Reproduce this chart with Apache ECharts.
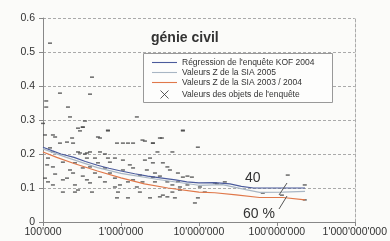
<!DOCTYPE html>
<html>
<head>
<meta charset="utf-8">
<script src="https://cdn.jsdelivr.net/npm/echarts@6/dist/echarts.min.js"></script>
<style>
  html, body { margin: 0; padding: 0; background: #fbfbf9; }
  #chart { width: 390px; height: 241px; }
</style>
</head>
<body>
<div id="chart"></div>
<script>
// échelle x: coût de l'ouvrage (log), y: valeur Z
const xTicks = [1e5, 1e6, 1e7, 1e8, 1e9];
const yTicks = [0, 0.1, 0.2, 0.3, 0.4, 0.5, 0.6];

const regressionKOF = [
  [1e5, 0.22], [1.3e5, 0.21], [1.7e5, 0.2], [2.5e5, 0.19], [3.5e5, 0.178],
  [5e5, 0.167], [7e5, 0.158], [1e6, 0.15], [1.5e6, 0.142], [2.2e6, 0.135],
  [3.2e6, 0.13], [5e6, 0.124], [7e6, 0.118], [1e7, 0.115], [1.6e7, 0.116],
  [2.5e7, 0.112], [3.5e7, 0.105], [5e7, 0.1], [1e8, 0.1], [1.6e8, 0.1], [2.3e8, 0.1]
];
const sia2005 = [
  [1e5, 0.215], [2e5, 0.19], [5e5, 0.16], [1e6, 0.143], [3e6, 0.125],
  [1e7, 0.108], [2e7, 0.11], [4e7, 0.095], [6e7, 0.087], [1.2e8, 0.088], [2.3e8, 0.09]
];
const sia2003 = [
  [1e5, 0.206], [1.5e5, 0.19], [2.5e5, 0.172], [5e5, 0.15], [1e6, 0.13],
  [2e6, 0.112], [4e6, 0.1], [1e7, 0.088], [1.6e7, 0.086], [3e7, 0.08],
  [6e7, 0.072], [1.2e8, 0.072], [2.3e8, 0.065]
];
const objets = [
  [1.23e5, 0.526], [4.25e5, 0.426], [1.65e5, 0.379], [4.01e5, 0.376], [1.1e5, 0.356],
  [1.1e5, 0.338], [2.09e5, 0.338], [2.22e5, 0.309], [3.24e5, 0.279], [2.98e5, 0.268],
  [3.45e5, 0.297], [1.0e5, 0.29], [6.81e5, 0.268], [5.07e5, 0.25], [1.6e6, 0.309],
  [6.23e6, 0.268], [3.35e6, 0.247], [2.57e6, 0.232], [9.7e6, 0.22],
  [1.06e5, 0.256], [1.34e5, 0.256], [1.43e5, 0.25], [2.03e5, 0.235], [2.43e5, 0.232],
  [2.36e5, 0.247], [2.81e5, 0.276], [3.24e5, 0.279], [5.38e5, 0.247], [6.81e5, 0.27],
  [8.89e5, 0.232], [1.06e6, 0.232], [1.23e6, 0.232], [1.43e6, 0.232], [2.03e6, 0.238],
  [3.16e6, 0.247], [6.23e6, 0.27], [4.57e6, 0.206], [5.38e5, 0.206], [3.66e5, 0.203],
  [2.81e5, 0.206], [1.23e5, 0.218], [1.34e5, 0.206], [1.34e5, 0.162], [1.13e5, 0.168],
  [1.06e5, 0.129], [1.16e5, 0.118], [1.34e5, 0.109], [1.8e5, 0.088], [2.03e5, 0.129],
  [2.57e5, 0.088], [2.81e5, 0.094], [4.25e5, 0.088], [3.66e5, 0.124], [2.22e5, 0.153],
  [2.43e5, 0.144], [4.01e5, 0.162], [4.64e5, 0.144], [6.23e5, 0.159], [7.22e5, 0.144],
  [8.37e5, 0.129], [9.16e5, 0.088], [8.89e5, 0.071], [1.23e6, 0.071], [9.71e5, 0.109],
  [1.43e6, 0.124], [1.6e6, 0.103], [1.75e6, 0.138], [2.15e6, 0.153], [2.57e6, 0.132],
  [2.73e6, 0.118], [3.45e6, 0.079], [3.94e6, 0.074], [4.92e6, 0.071], [5.71e6, 0.094],
  [7.13e6, 0.109], [8.13e6, 0.132], [4.57e6, 0.088], [2.57e6, 0.174], [2.03e6, 0.182],
  [1.3e6, 0.168], [2.98e5, 0.203], [3.45e5, 0.2], [4.01e5, 0.206], [6.23e5, 0.2],
  [3.66e5, 0.188], [4.64e5, 0.188], [6.81e5, 0.188], [8.37e5, 0.188], [1.89e6, 0.241],
  [2.57e6, 0.232], [2.94e6, 0.206], [2.36e6, 0.188], [3.45e6, 0.174], [3.94e6, 0.162],
  [4.25e6, 0.153], [5.38e6, 0.144], [6.23e6, 0.132], [7.13e6, 0.135], [1.89e6, 0.118],
  [3.94e6, 0.118], [4.57e6, 0.109], [5.71e6, 0.103], [1.03e7, 0.103], [1.6e7, 0.115],
  [1.19e7, 0.088], [9.71e6, 0.071], [8.89e6, 0.056], [3.16e6, 0.074], [2.36e6, 0.071],
  [1.7e7, 0.112], [2.15e7, 0.118], [6.6e7, 0.085], [1.16e8, 0.079], [2.28e8, 0.109],
  [2.28e8, 0.065], [1.38e8, 0.138], [1.65e5, 0.232], [1.8e5, 0.176], [2.57e5, 0.174],
  [3.24e5, 0.159], [5.07e5, 0.174], [6.23e5, 0.118], [7.22e5, 0.176], [1.06e6, 0.182],
  [1.16e5, 0.188], [1.43e5, 0.141], [1.8e5, 0.124], [2.57e5, 0.109], [3.24e5, 0.135],
  [5.38e5, 0.132], [1.06e6, 0.153], [1.43e6, 0.159], [2.73e6, 0.144], [3.16e6, 0.135],
  [5.38e6, 0.118], [1.23e6, 0.118], [8.37e5, 0.103], [4.01e5, 0.115], [1.75e6, 0.088]
];

function fmt(v) {
  return String(Math.round(v)).replace(/\B(?=(\d{3})+(?!\d))/g, "'");
}

const lineIcon = 'path://M0,0L23,0L23,1L0,1Z';
const chart = echarts.init(document.getElementById('chart'));
const txt = '#333';
const option = {
  backgroundColor: '#fbfbf9',
  animation: false,
  textStyle: { fontFamily: 'Liberation Sans' },
  title: {
    text: 'génie civil',
    left: 151,
    top: 31,
    padding: 0,
    textStyle: { fontSize: 14, fontWeight: 'bold', color: '#333', fontFamily: 'Liberation Sans' }
  },
  grid: { left: 43, right: 34, top: 18, bottom: 19 },
  legend: {
    orient: 'vertical',
    left: 152,
    top: 58,
    padding: 0,
    itemWidth: 25,
    itemHeight: 8,
    itemGap: 1,
    z: 10,
    textStyle: { fontSize: 8.5, color: '#333' },
    data: [
      { name: "Régression de l'enquête KOF 2004", icon: lineIcon },
      { name: 'Valeurs Z de la SIA 2005', icon: lineIcon },
      { name: 'Valeurs Z de la SIA 2003 / 2004', icon: lineIcon },
      { name: "Valeurs des objets de l'enquête", icon: 'path://M0,0L10,10M10,0L0,10',
        itemStyle: { borderColor: '#333', borderWidth: 1, color: 'none' } }
    ]
  },
  graphic: [
    { type: 'rect', left: 143, top: 53, z: 9, shape: { width: 189, height: 49 },
      style: { fill: '#fdfdfc', stroke: '#999', lineWidth: 1 } },
    { type: 'text', left: 245, top: 171, z: 9, style: { text: '40', fontSize: 14, fill: '#333', fontFamily: 'Liberation Sans' } },
    { type: 'text', left: 243, top: 207, z: 9, style: { text: '60 %', fontSize: 14, fill: '#333', fontFamily: 'Liberation Sans' } },
    { type: 'line', z: 9, shape: { x1: 279, y1: 195, x2: 287, y2: 183 }, style: { stroke: '#555', lineWidth: 1 } },
    { type: 'line', z: 9, shape: { x1: 279, y1: 209, x2: 287, y2: 196 }, style: { stroke: '#555', lineWidth: 1 } }
  ],
  xAxis: {
    type: 'log',
    logBase: 10,
    min: xTicks[0],
    max: xTicks[xTicks.length - 1],
    axisLine: { lineStyle: { color: '#888' } },
    axisTick: { length: 4, lineStyle: { color: '#888' } },
    minorTick: { show: false },
    splitLine: { show: false },
    axisLabel: { color: txt, fontSize: 10.5, margin: 5, formatter: fmt, showMaxLabel: true }
  },
  yAxis: [{
    type: 'value',
    min: yTicks[0],
    max: yTicks[yTicks.length - 1],
    interval: 0.1,
    axisLine: { show: true, lineStyle: { color: '#888' } },
    axisTick: { show: true, length: 4, lineStyle: { color: '#888' } },
    splitLine: { show: true, lineStyle: { color: '#aaa', type: [3, 2] } },
    axisLabel: { color: txt, fontSize: 10.5, margin: 8 }
  }, {
    type: 'value',
    position: 'right',
    min: yTicks[0],
    max: yTicks[yTicks.length - 1],
    axisLine: { show: true, lineStyle: { color: '#aaa', type: [3, 2] } },
    axisTick: { show: false },
    axisLabel: { show: false },
    splitLine: { show: false }
  }],
  series: [
    {
      name: "Régression de l'enquête KOF 2004",
      type: 'line', data: regressionKOF, symbol: 'none',
      lineStyle: { color: '#4b5b9c', width: 1.2 }, itemStyle: { color: '#4b5b9c' }, z: 4
    },
    {
      name: 'Valeurs Z de la SIA 2005',
      type: 'line', data: sia2005, symbol: 'none',
      lineStyle: { color: '#a9b6c4', width: 1.2 }, itemStyle: { color: '#a9b6c4' }, z: 4
    },
    {
      name: 'Valeurs Z de la SIA 2003 / 2004',
      type: 'line', data: sia2003, symbol: 'none',
      lineStyle: { color: '#e0784a', width: 1.2 }, itemStyle: { color: '#e0784a' }, z: 4
    },
    {
      name: "Valeurs des objets de l'enquête",
      type: 'scatter', data: objets, symbol: 'rect', symbolSize: [4, 1.5],
      itemStyle: { color: '#444' }, z: 3
    }
  ]
};
chart.setOption(option);
</script>
</body>
</html>
